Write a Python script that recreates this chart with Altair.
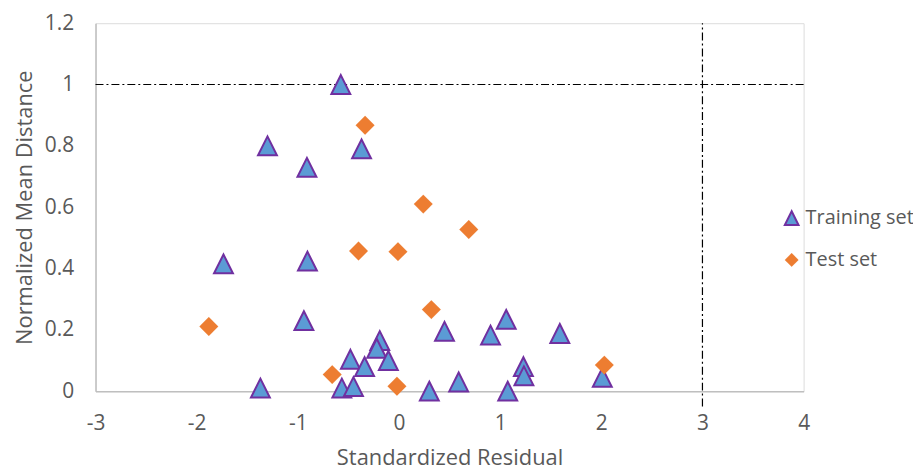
import altair as alt
import pandas as pd

# ---- data ----
train_x = [-0.575, -1.30, -0.91, -0.37, -1.735, -0.905, -0.94, -1.37, -0.565, -0.45,
           -0.48, -0.34, -0.19, -0.22, -0.105, 0.30, 0.45, 0.59, 0.905, 1.06,
           1.59, 1.23, 1.235, 1.075, 2.01]
train_y = [1.0, 0.80, 0.73, 0.79, 0.415, 0.424, 0.23, 0.01, 0.01, 0.015,
           0.104, 0.08, 0.165, 0.14, 0.10, 0.0, 0.195, 0.03, 0.183, 0.234,
           0.188, 0.08, 0.05, 0.0, 0.045]
test_x = [-0.335, 0.24, 0.69, -0.40, -0.01, 0.32, -1.88, -0.66, -0.02, 2.03]
test_y = [0.867, 0.61, 0.527, 0.457, 0.455, 0.266, 0.211, 0.054, 0.016, 0.085]

series_names = ["Training set", "Test set"]
x_ticks = [-3, -2, -1, 0, 1, 2, 3, 4]
y_ticks = [0, 0.2, 0.4, 0.6, 0.8, 1.0, 1.2]
x_domain = [-3, 4]
y_domain = [0, 1.2]

# threshold lines
h_line_y = 1.0
h_line_x = [-3, 4]
v_line_x = 3.0
v_line_y = [-0.05, 1.2]

pts = pd.DataFrame(
    {"x": train_x + test_x,
     "y": train_y + test_y,
     "series": [series_names[0]] * len(train_x) + [series_names[1]] * len(test_x)}
)
hline = pd.DataFrame({"x": [h_line_x[0]], "x2": [h_line_x[1]], "y": [h_line_y]})
vline = pd.DataFrame({"x": [v_line_x], "y": [v_line_y[0]], "y2": [v_line_y[1]]})

FONT = "Open Sans"
GREY = "#595959"

xs = alt.Scale(domain=x_domain, nice=False, zero=False)
ys = alt.Scale(domain=y_domain, nice=False, zero=False)

xax = alt.Axis(values=x_ticks, title="Standardized Residual", grid=False, ticks=False,
               domainColor="#BFBFBF", domainWidth=1.5, labelFont=FONT, labelFontSize=21,
               labelColor=GREY, titleFont=FONT, titleFontSize=22, titleColor=GREY,
               titleFontWeight="normal", labelPadding=22, titlePadding=14,
               labelFlush=False, labelOverlap=False,
               labelExpr="'' + datum.value")
yax = alt.Axis(values=y_ticks, title="Normalized Mean Distance", grid=False, ticks=False,
               domainColor="#BFBFBF", domainWidth=1.5, labelFont=FONT, labelFontSize=21,
               labelColor=GREY, titleFont=FONT, titleFontSize=22, titleColor=GREY,
               titleFontWeight="normal", labelPadding=22, titlePadding=8,
               labelFlush=False, labelOverlap=False,
               labelExpr="'' + datum.value")

dash = [8, 3, 2, 3]
h = alt.Chart(hline).mark_rule(color="black", strokeWidth=1.2, strokeDash=dash).encode(
    x=alt.X("x:Q", scale=xs, axis=xax), x2="x2:Q",
    y=alt.Y("y:Q", scale=ys, axis=yax))
v = alt.Chart(vline).mark_rule(color="black", strokeWidth=1.2, strokeDash=dash).encode(
    x=alt.X("x:Q", scale=xs), y=alt.Y("y:Q", scale=ys), y2="y2:Q")

tri = "M0,-1L1,1L-1,1Z"
dia = "M-1,0L0,-1L1,0L0,1Z"

leg = alt.Legend(title=None, orient="none", legendX=690, legendY=186,
                 labelFont=FONT, labelFontSize=20, labelColor=GREY,
                 symbolSize=190, symbolStrokeWidth=1.5,
                 rowPadding=21, labelOffset=4)

points = alt.Chart(pts).mark_point(filled=True, size=361, opacity=1, strokeWidth=2).encode(
    x=alt.X("x:Q", scale=xs),
    y=alt.Y("y:Q", scale=ys),
    shape=alt.Shape("series:N", scale=alt.Scale(domain=series_names, range=[tri, dia]), legend=leg),
    fill=alt.Fill("series:N", scale=alt.Scale(domain=series_names, range=["#5B9BD5", "#ED7D31"]),
                  legend=leg),
    stroke=alt.Stroke("series:N", scale=alt.Scale(domain=series_names, range=["#7030A0", "#ED7D31"]),
                      legend=leg),
    strokeWidth=alt.StrokeWidth("series:N", scale=alt.Scale(domain=series_names, range=[2, 0.1]),
                                legend=None),
)

chart = alt.layer(h, v, points).properties(
    width=712, height=370,
    autosize=alt.AutoSizeParams(type="none"),
    padding={"left": 88, "top": 14, "right": 110, "bottom": 80},
).configure_view(stroke=None).configure(background="white")

chart.save("out.html", embed_options={"renderer": "svg", "actions": False})
